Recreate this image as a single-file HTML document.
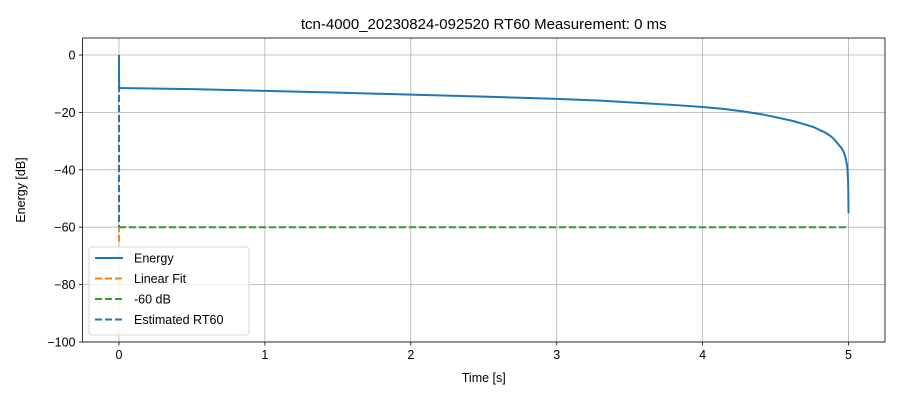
<!DOCTYPE html>
<html><head><meta charset="utf-8"><style>
body{margin:0;background:#fff;font-family:"Liberation Sans","DejaVu Sans",sans-serif}
</style></head><body>
<svg id="c" width="900" height="400" xmlns="http://www.w3.org/2000/svg"></svg>
<script>
const tickX=[0,1,2,3,4,5];
const tickY=[0,-20,-40,-60,-80,-100];
const energyT=[0,0.0005,0.001,0.5,1,1.5,2,2.5,3,3.3,3.6,3.8,4,4.15,4.3,4.42,4.53,4.62,4.7,4.76,4.8,4.84,4.87,4.895,4.915,4.935,4.95,4.962,4.97,4.978,4.985,4.99,4.993,4.996,4.998,5.0];
const energyDb=[0,-6,-11.5,-11.9,-12.5,-13.1,-13.8,-14.5,-15.3,-15.9,-16.8,-17.4,-18.1,-18.8,-19.8,-20.8,-22,-23,-24.2,-25.1,-26.1,-27,-28,-29,-30.2,-31.4,-32.3,-33.3,-34.2,-35.5,-37,-38.4,-40,-43,-46,-55.1];
const fitT=[0,0];const fitDb=[0,-65];
const refT=[0,5];const refDb=[-60,-60];
const rtT=[0,0];const rtDb=[0,-60];
const L=82.5,R=885,T=38,B=342;
const X=t=>L+(t+0.25)/5.5*(R-L);
const Y=v=>55+(-v)*2.87;
const svg=document.getElementById('c');const NS='http://www.w3.org/2000/svg';
function mk(tag,a,name,txt){const e=document.createElementNS(NS,tag);for(const k in a)e.setAttribute(k,a[k]);


if(txt!==undefined)e.textContent=txt;svg.appendChild(e);return e;}
tickX.forEach(t=>{mk('line',{x1:X(t),x2:X(t),y1:T,y2:B,stroke:'#b0b0b0','stroke-width':0.8},'x-grid-line');
mk('line',{x1:X(t),x2:X(t),y1:B,y2:B+3.5,stroke:'#000','stroke-width':0.8},'x-tick');
mk('text',{x:X(t),y:B+17,'text-anchor':'middle','font-size':12.5},'x-tick-label',String(t));});
tickY.forEach(v=>{mk('line',{x1:L,x2:R,y1:Y(v),y2:Y(v),stroke:'#b0b0b0','stroke-width':0.8},'y-grid-line');
mk('line',{x1:L-3.5,x2:L,y1:Y(v),y2:Y(v),stroke:'#000','stroke-width':0.8},'y-tick');
mk('text',{x:L-7,y:Y(v)+4.5,'text-anchor':'end','font-size':12.5},'y-tick-label',v===0?'0':'\u2212'+(-v));});
const pl=(ts,vs)=>ts.map((t,i)=>X(t)+','+Y(vs[i])).join(' ');
mk('polyline',{points:pl(refT,refDb),fill:'none',stroke:'#2ca02c','stroke-width':2,'stroke-dasharray':'7,3'},'minus-60db-line');
mk('polyline',{points:pl(fitT,fitDb),fill:'none',stroke:'#ff7f0e','stroke-width':2,'stroke-dasharray':'7,3'},'linear-fit-line');
mk('polyline',{points:pl(energyT,energyDb),fill:'none',stroke:'#1f77b4','stroke-width':2,'stroke-linejoin':'round'},'energy-line');
mk('polyline',{points:pl(rtT,rtDb),fill:'none',stroke:'#1f77b4','stroke-width':2,'stroke-dasharray':'7,3'},'estimated-rt60-line');
mk('rect',{x:L,y:T,width:R-L,height:B-T,fill:'none',stroke:'#000','stroke-width':0.8},'plot-frame');
mk('text',{x:(L+R)/2,y:29,'text-anchor':'middle','font-size':15},'chart-title','tcn-4000_20230824-092520 RT60 Measurement: 0 ms');
mk('text',{x:(L+R)/2,y:382,'text-anchor':'middle','font-size':12.5},'x-axis-title','Time [s]');
mk('text',{x:25,y:190,'text-anchor':'middle','font-size':12.5,transform:'rotate(-90 25 190)'},'y-axis-title','Energy [dB]');
mk('rect',{x:89,y:247,width:160,height:88,rx:3,fill:'#fff','fill-opacity':0.8,stroke:'#ccc','stroke-width':0.8},'legend-box');
const lg=[['Energy','#1f77b4',''],['Linear Fit','#ff7f0e','7,3'],['-60 dB','#2ca02c','7,3'],['Estimated RT60','#1f77b4','7,3']];
lg.forEach((e,i)=>{const y=258+i*20.5;
mk('line',{x1:95,x2:123,y1:y,y2:y,stroke:e[1],'stroke-width':2,'stroke-dasharray':e[2]||'none'},'legend-swatch');
mk('text',{x:134,y:y+4.5,'font-size':12.5},'legend-entry',e[0]);});
</script>
</body></html>
